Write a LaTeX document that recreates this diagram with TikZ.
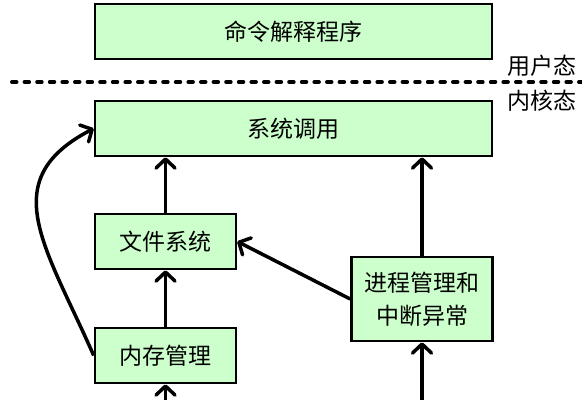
\documentclass[tikz,border=0pt]{standalone}
\usepackage{fontspec}
\newfontfamily\cjk{Noto Sans CJK SC}
\usetikzlibrary{arrows.meta,positioning}
\definecolor{boxfill}{HTML}{CCFFCC}
\tikzset{%
  base/.style    = {rectangle, draw=black, line width=2.6pt, fill=boxfill,
    minimum height=55pt, text centered, align=center,
    font=\cjk\fontsize{23}{33}\selectfont},
  wide/.style    = {base, minimum width=397pt}, % Schicht
  small/.style   = {base, minimum width=141pt}, % Modul
  state/.style   = {inner sep=0pt, font=\cjk\fontsize{23}{28}\selectfont},
  divider/.style = {line width=4pt, line cap=round, dash pattern=on 4.5pt off 8.1pt}
}

\begin{document}
\begin{tikzpicture}[x=1pt, y=-1pt, line width=3.5pt,
  >={Straight Barb[length=9pt, width=19pt, round]}]
\useasboundingbox (0,0) rectangle (582,400);
\draw
	node at(293.5,31.5)[wide, name=shell]{命令解释程序}
	node at(293.5,128.5)[wide, name=syscall]{系统调用}
	node at(165.5,241.5)[small, name=fs]{文件系统}
	node [small, name=mem, node distance=114pt, below of=fs]{内存管理}
	node at(422,299)[small, minimum height=84pt, name=proc]{进程管理和\\中断异常};
\draw
	node at(542,66)[state, name=user]{用户态}
	node at(542,101)[state, name=kernel]{内核态};
\coordinate (left) at (12,82);
\coordinate (right) at (582,82);
\coordinate (memin) at (165.5,400);
\coordinate (procin) at (422,400);
\draw[divider](left) -- (right);
\draw[->](fs.north) -- (fs.north |- syscall.south);
\draw[->](proc.north) -- (proc.north |- syscall.south);
\draw[->](mem.north) -- (fs.south);
\draw[->](proc.west) -- (fs.east);
\draw[->](mem.west) .. controls (45,245) and (-5,180) .. (syscall.west);
\draw[->](memin) -- (mem.south);
\draw[->](procin) -- (proc.south);
\end{tikzpicture}
\end{document}
